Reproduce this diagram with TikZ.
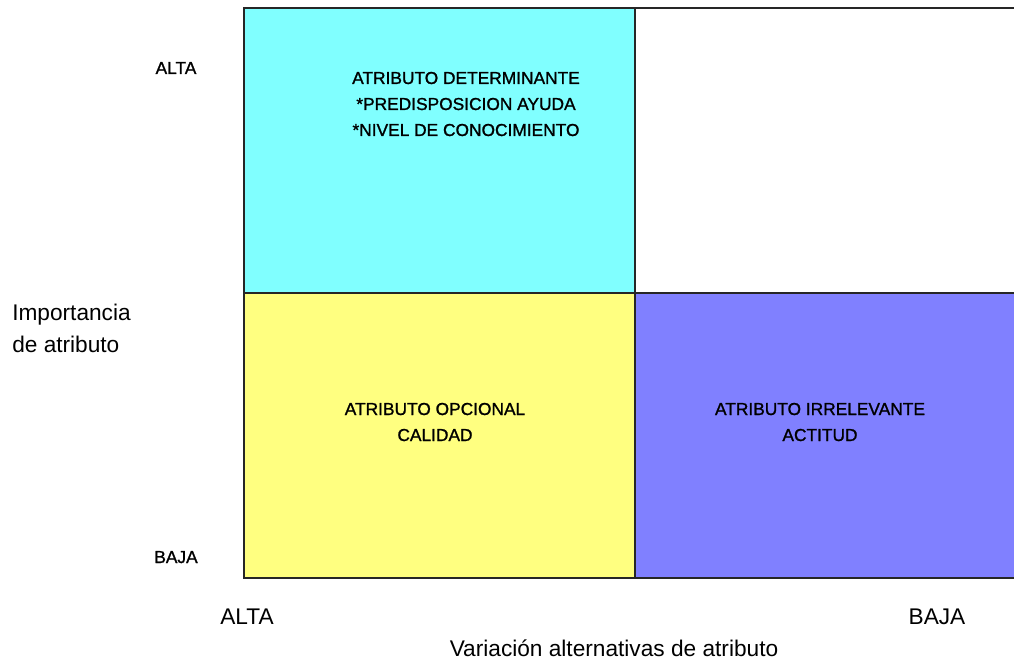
\documentclass[tikz,border=0pt]{standalone}
\usepackage{fontspec}
\setmainfont{Liberation Sans}
\newfontfamily\grueso[FakeBold=1.2]{Liberation Sans}
\definecolor{cuadcian}{HTML}{80FFFF}
\definecolor{cuadamar}{HTML}{FFFF80}
\definecolor{cuadazul}{HTML}{8080FF}
\begin{document}
\begin{tikzpicture}[x=0.75pt,y=-0.75pt,
  peq/.style={font=\grueso\fontsize{13pt}{15pt}\selectfont,anchor=base,inner sep=0pt},
  grande/.style={font=\fontsize{17pt}{20pt}\selectfont,anchor=base,inner sep=0pt}]
  \useasboundingbox (0,0) rectangle (1014,663);
  \fill[cuadcian] (244,8) rectangle (635,293);
  \fill[cuadamar] (244,293) rectangle (635,578);
  \fill[cuadazul] (635,293) rectangle (1020,578);
  \draw[line width=1.3pt,black!85] (1020,8) -- (244,8) -- (244,578) -- (1020,578);
  \draw[line width=1.3pt,black!85] (635,8) -- (635,578);
  \draw[line width=1.3pt,black!85] (244,293) -- (1020,293);

  % cuadrantes
  \foreach \y/\t [count=\i] in {84/ATRIBUTO DETERMINANTE, 110/*PREDISPOSICION AYUDA, 136/*NIVEL DE CONOCIMIENTO}
    \node[peq] (det\i) at (466,\y) {\t};
  \foreach \y/\t [count=\i] in {415/ATRIBUTO OPCIONAL, 441/CALIDAD}
    \node[peq] (opc\i) at (435,\y) {\t};
  \foreach \y/\t [count=\i] in {415/ATRIBUTO IRRELEVANTE, 441/ACTITUD}
    \node[peq] (irr\i) at (820,\y) {\t};

  % ejes
  \node[peq] (yalta) at (176,74) {ALTA};
  \node[peq] (ybaja) at (176,563) {BAJA};
  \node[grande,anchor=base west] (imp1) at (12,320) {Importancia};
  \node[grande,anchor=base west] (imp2) at (12,352) {de atributo};
  \node[grande] (xalta) at (247,624) {ALTA};
  \node[grande] (xbaja) at (937,624) {BAJA};
  \node[grande] (var) at (614,656) {Variación alternativas de atributo};
\end{tikzpicture}
\end{document}
